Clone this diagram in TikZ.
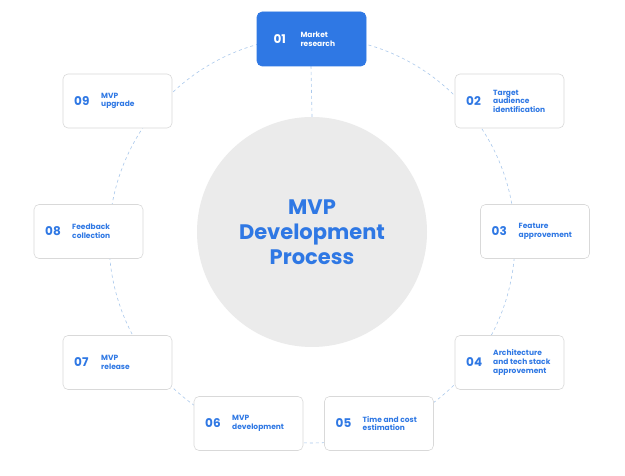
\documentclass[tikz,border=0pt]{standalone}
\usepackage{fontspec}
\setmainfont{Poppins}
\definecolor{mblue}{HTML}{2F78E4}
\definecolor{mgrey}{HTML}{EBEBEB}
\definecolor{dline}{HTML}{A9C8EC}
\begin{document}
\begin{tikzpicture}[x=1pt,y=-1pt,
  card/.style={draw=black!15,fill=white,rounded corners=5pt,minimum width=109pt,minimum height=54pt,line width=0.6pt},
  num/.style={font=\bfseries\fontsize{12}{14}\selectfont,text=mblue,anchor=west},
  lab/.style={font=\bfseries\fontsize{7.5}{8.6}\selectfont,text=mblue,anchor=west,align=left}]
\useasboundingbox[fill=white] (0,0) rectangle (625,476);
\draw[dline,dashed,line width=0.6pt] (312,240) circle (203);
\node[circle,fill=mgrey,minimum size=230pt] (c) at (312,232) {};
\node[font=\bfseries\fontsize{21}{25}\selectfont,text=mblue,align=center] (t) at (312,232) {MVP\\Development\\Process};
\draw[dline,dashed,line width=0.6pt] (311,66) -- (c.north);
\node[card,fill=mblue,draw=mblue] (b1) at (311.5,39) {};
\node[num,text=white] (n1) at (270,39) {01};
\node[lab,text=white] (l1) at (297,39) {Market\\research};
\foreach \i/\x/\y/\t in {2/509.5/101/{Target\\audience\\identification},3/535/231.5/{Feature\\approvement},4/509.5/362.5/{Architecture\\and tech stack\\approvement},5/379/423.5/{Time and cost\\estimation},6/248.5/423.5/{MVP\\development},7/117.5/362.5/{MVP\\release},8/88.5/231.5/{Feedback\\collection},9/117.5/101/{MVP\\upgrade}}{
  \node[card] (b\i) at (\x,\y) {};
  \node[num] (n\i) at ([xshift=8pt]b\i.west) {0\i};
  \node[lab] (l\i) at ([xshift=35pt]b\i.west) {\t};
}
\end{tikzpicture}
\end{document}
